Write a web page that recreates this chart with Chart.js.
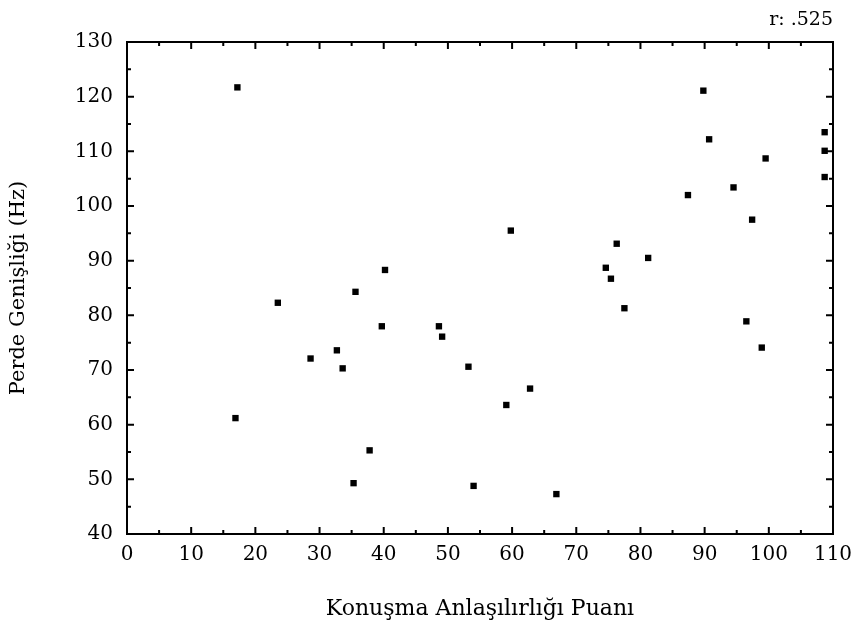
<!DOCTYPE html>
<html>
<head>
<meta charset="utf-8">
<style>
body{margin:0;background:#fff;}
canvas{display:block;}
</style>
<script src="https://cdn.jsdelivr.net/npm/chart.js@4/dist/chart.umd.min.js"></script>
</head>
<body>
<canvas id="scatterChart" width="854" height="628"></canvas>
<script>

// speech intelligibility score (x) and pitch range in Hz (y)
const scores = [
17.2, 16.9, 23.5, 28.6, 32.7, 33.6, 35.6, 40.2, 39.7, 35.3,
37.8, 54.0, 48.6, 49.1, 53.2, 59.8, 62.8, 59.1, 66.9, 76.3,
74.6, 75.4, 77.5, 81.2, 97.4, 96.5, 98.9, 89.8, 90.7, 99.5,
94.5, 87.4, 108.7, 108.7, 108.7
];

const pitchRange = [
121.7, 61.2, 82.3, 72.1, 73.6, 70.3, 84.3, 88.3, 78.0, 49.3,
55.3, 48.8, 78.0, 76.1, 70.6, 95.5, 66.6, 63.6, 47.3, 93.1,
88.7, 86.7, 81.3, 90.5, 97.5, 78.9, 74.1, 121.1, 112.2, 108.7,
103.4, 102.0, 113.5, 110.1, 105.3
];

const xTicks = [0,10,20,30,40,50,60,70,80,90,100,110];
const yTicks = [40,50,60,70,80,90,100,110,120,130];

const xTitle = 'Konuşma Anlaşılırlığı Puanı';
const yTitle = 'Perde Genişliği (Hz)';
const corrText = 'r: .525';

const serif = 'DejaVu Serif';

let points = [];
scores.forEach((s,i)=>{
points.push({x:s, y:pitchRange[i]});
});

// frame with inward ticks on all four sides
const frameTicks = {
id:'frameTicks',
afterDatasetsDraw(chart){
const ctx = chart.ctx;
const a = chart.chartArea;
const x = chart.scales.x;
const y = chart.scales.y;
ctx.save();
ctx.strokeStyle = '#000';
ctx.lineWidth = 2;
ctx.strokeRect(a.left, a.top, a.right-a.left, a.bottom-a.top);
ctx.beginPath();
const xStep = (xTicks[1]-xTicks[0])/2;
for(let v=xTicks[0]; v<=xTicks[xTicks.length-1]; v+=xStep){
const px = x.getPixelForValue(v);
const len = (v % 10 === 0) ? 7 : 4;
ctx.moveTo(px, a.bottom); ctx.lineTo(px, a.bottom-len);
ctx.moveTo(px, a.top); ctx.lineTo(px, a.top+len);
}
const yStep = (yTicks[1]-yTicks[0])/2;
for(let v=yTicks[0]; v<=yTicks[yTicks.length-1]; v+=yStep){
const py = y.getPixelForValue(v);
const len = (v % 10 === 0) ? 7 : 4;
ctx.moveTo(a.left, py); ctx.lineTo(a.left+len, py);
ctx.moveTo(a.right, py); ctx.lineTo(a.right-len, py);
}
ctx.stroke();
ctx.fillStyle = '#000';
ctx.font = '19px "' + serif + '"';
ctx.textAlign = 'right';
ctx.textBaseline = 'alphabetic';
ctx.fillText(corrText, a.right, 25);
ctx.restore();
}
};

new Chart(

document.getElementById('scatterChart'),

{
type:'scatter',

data:{
datasets:[{
label:'Puan',
data:points,
pointStyle:'rect',
pointRadius:4.5,
pointHoverRadius:4.5,
backgroundColor:'#000',
borderColor:'#000',
borderWidth:0
}]
},

options:{
responsive:false,
animation:false,
layout:{
padding:{top:42, right:21, bottom:0, left:0}
},
plugins:{
legend:{display:false},
tooltip:{enabled:false}
},
scales:{
x:{
type:'linear',
min:xTicks[0],
max:xTicks[xTicks.length-1],
afterBuildTicks:(scale)=>{
scale.ticks = xTicks.map(v=>({value:v}));
},
afterFit:(scale)=>{
scale.height = 94;
scale.paddingLeft = 0;
scale.paddingRight = 0;
},
grid:{display:false, drawTicks:false},
border:{display:false},
ticks:{
color:'#000',
padding:9,
maxRotation:0,
font:{family:serif, size:20}
},
title:{
display:true,
text:xTitle,
color:'#000',
padding:{top:0, bottom:6},
font:{family:serif, size:22}
}
},
y:{
type:'linear',
min:yTicks[0],
max:yTicks[yTicks.length-1],
afterBuildTicks:(scale)=>{
scale.ticks = yTicks.map(v=>({value:v}));
},
afterFit:(scale)=>{
scale.width = 127;
scale.paddingTop = 0;
scale.paddingBottom = 0;
},
grid:{display:false, drawTicks:false},
border:{display:false},
ticks:{
color:'#000',
padding:14,
font:{family:serif, size:20}
},
title:{
display:true,
text:yTitle,
color:'#000',
padding:{top:6, bottom:0},
font:{family:serif, size:21}
}
}
}
},

plugins:[frameTicks]
}
);

</script>
</body>
</html>
